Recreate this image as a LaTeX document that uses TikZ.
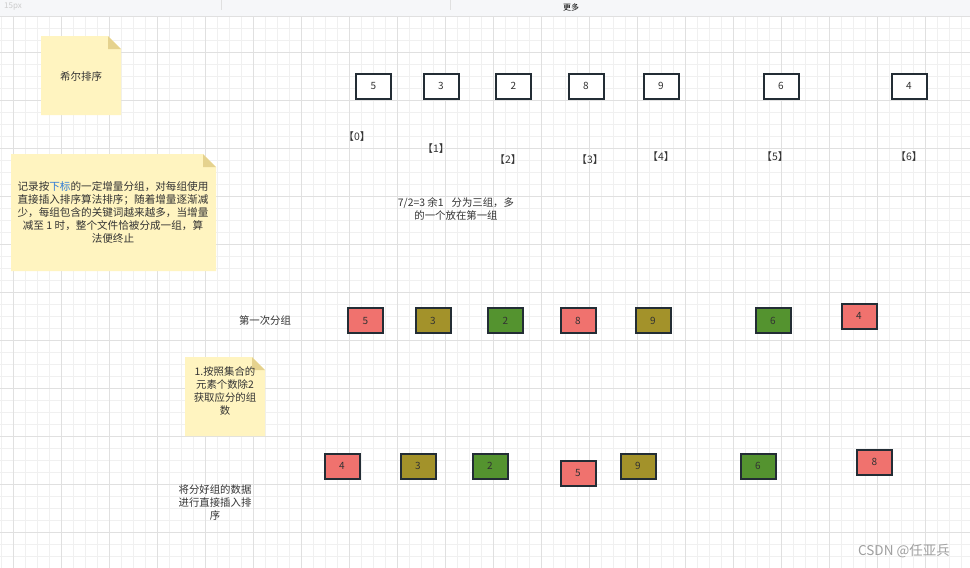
\documentclass[tikz,border=0pt]{standalone}
\usepackage{fontspec}
\setmainfont{Noto Sans CJK SC}
\definecolor{bd}{HTML}{232D35}
\definecolor{cred}{HTML}{F0726E}
\definecolor{colive}{HTML}{A3922A}
\definecolor{cgreen}{HTML}{54932F}
\definecolor{notefill}{HTML}{FFF4C0}
\definecolor{notefold}{HTML}{E5D28E}
\definecolor{gmin}{HTML}{F0F0F0}
\definecolor{gmaj}{HTML}{E0E0E0}
\definecolor{txt}{HTML}{333333}
\definecolor{link}{HTML}{2F7BD6}
\definecolor{tbar}{HTML}{F6F7F9}
\tikzset{
  minorgrid/.style={draw=gmin,line width=0.9pt},
  majorgrid/.style={draw=gmaj,line width=0.9pt},
  numbox/.style={draw=bd,line width=2pt,minimum width=35pt,minimum height=25pt,inner sep=0pt,text=txt,font=\fontsize{10}{12}\selectfont},
  white box/.style={numbox,fill=white},
  red box/.style={numbox,fill=cred},
  olive box/.style={numbox,fill=colive},
  green box/.style={numbox,fill=cgreen},
  lbl/.style={text=txt,inner sep=0pt,align=center,font=\fontsize{10.4}{13}\selectfont},
}
\newcommand{\mynote}[5]{% x1 y1 x2 y2 fold
  \fill[notefill] (#1,#2) -- (#3-#5,#2) -- (#3,#2+#5) -- (#3,#4) -- (#1,#4) -- cycle;
  \fill[notefold] (#3-#5,#2) -- (#3,#2+#5) -- (#3-#5,#2+#5) -- cycle;
}
\begin{document}
\begin{tikzpicture}[x=1pt,y=-1pt]
\useasboundingbox (0,0) rectangle (970,568);
\fill[white] (0,0) rectangle (970,568);
% grid
\foreach \x in {1,13,...,969} \draw[minorgrid] (\x,16) -- (\x,568);
\foreach \y in {16,28,...,568} \draw[minorgrid] (0,\y) -- (970,\y);
\foreach \x in {13,61,...,925} \draw[majorgrid] (\x,16) -- (\x,568);
\foreach \y in {52,100,...,532} \draw[majorgrid] (0,\y) -- (970,\y);
% toolbar
\fill[tbar] (0,0) rectangle (970,16);
\draw[gmaj,line width=0.8pt] (0,16) -- (970,16);
\draw[gmaj,line width=0.8pt] (221,0) -- (221,10);
\draw[gmaj,line width=0.8pt] (450,0) -- (450,10);
\node[text=gray!40,font=\fontsize{8}{9}\selectfont,inner sep=0pt] (tbsize) at (13,7) {15px};
\node[text=black,font=\fontsize{8}{9}\selectfont,inner sep=0pt] (tbmore) at (571,7) {更多};
% notes
\mynote{41}{36}{121}{115}{13}
\node[lbl,font=\fontsize{10.5}{13}\selectfont] (n1) at (81,76) {希尔排序};
\mynote{11}{154}{216}{271}{13}
\node[lbl,font=\fontsize{10.6}{13}\selectfont] (n2) at (113,212) {记录按{\color{link}下标}的一定增量分组，对每组使用\\直接插入排序算法排序；随着增量逐渐减\\少，每组包含的关键词越来越多，当增量\\减至 1 时，整个文件恰被分成一组，算\\法便终止};
\mynote{185}{357}{265}{436}{13}
\node[lbl] (n3) at (225,391) {1.按照集合的\\元素个数除2\\获取应分的组\\数};
% top row
\node[white box] (a0) at (373.5,86) {5};
\node[white box] (a1) at (441,86) {3};
\node[white box] (a2) at (513.5,86) {2};
\node[white box] (a3) at (586,86) {8};
\node[white box] (a4) at (661,86) {9};
\node[white box] (a5) at (781,86) {6};
\node[white box] (a6) at (909,86) {4};
% indices
\node[lbl] (i0) at (357,137) {【0】};
\node[lbl] (i1) at (436,149) {【1】};
\node[lbl] (i2) at (508,160) {【2】};
\node[lbl] (i3) at (590,160) {【3】};
\node[lbl] (i4) at (661,157) {【4】};
\node[lbl] (i5) at (775,157) {【5】};
\node[lbl] (i6) at (909,157) {【6】};
% explanation
\node[lbl] (expl) at (456,209) {7/2=3 余1\hspace{8pt}分为三组，多\\的一个放在第一组};
% first grouping
\node[lbl] (g1) at (265,321) {第一次分组};
\node[red box] (b0) at (365.5,320.5) {5};
\node[olive box] (b1) at (433,320.5) {3};
\node[green box] (b2) at (505.5,320.5) {2};
\node[red box] (b3) at (578,320.5) {8};
\node[olive box] (b4) at (653,320.5) {9};
\node[green box] (b5) at (773,320.5) {6};
\node[red box] (b6) at (859,316) {4};
% sorted
\node[lbl] (srt) at (215,502.5) {将分好组的数据\\进行直接插入排\\序};
\node[red box] (c0) at (342,466) {4};
\node[olive box] (c1) at (418,466) {3};
\node[green box] (c2) at (490,466) {2};
\node[red box] (c3) at (578,473) {5};
\node[olive box] (c4) at (638,466) {9};
\node[green box] (c5) at (758,466) {6};
\node[red box] (c6) at (874.5,462) {8};
% watermark
\node[text=gray!75,font=\fontsize{13.5}{16}\selectfont,inner sep=0pt] (wm) at (904,551) {CSDN @任亚兵};
\end{tikzpicture}
\end{document}
